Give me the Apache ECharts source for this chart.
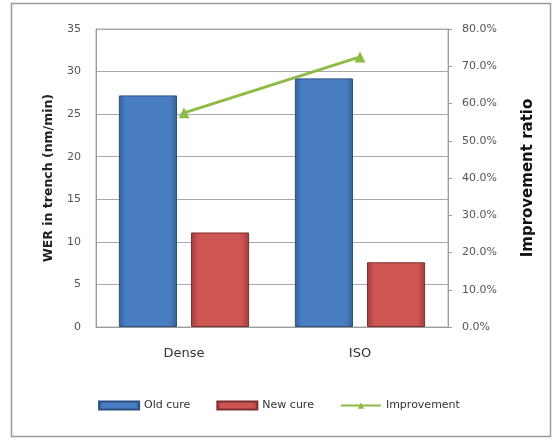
<!DOCTYPE html>
<html>
<head>
<meta charset="utf-8">
<script src="https://cdn.jsdelivr.net/npm/echarts@6/dist/echarts.min.js"></script>
<style>
  html, body { margin: 0; padding: 0; background: #fff; }
  #chart { width: 558px; height: 441px; }
</style>
</head>
<body>
<div id="chart"></div>
<script>
// Wet etch rate before / after the cure change, with the improvement ratio
const categories = ['Dense', 'ISO'];
const oldCure = [27.2, 29.2];
const newCure = [11.1, 7.6];
const improvement = [57.5, 72.5]; // percent
const leftTicks = { min: 0, max: 35, interval: 5 };
const rightTicks = { min: 0, max: 80, interval: 10 };

function barGradient(edge, mid) {
  return new echarts.graphic.LinearGradient(0, 0, 1, 0, [
    { offset: 0, color: edge },
    { offset: 0.12, color: mid },
    { offset: 0.88, color: mid },
    { offset: 1, color: edge }
  ]);
}

const font = 'DejaVu Sans';
const chart = echarts.init(document.getElementById('chart'));
chart.setOption({
  animation: false,
  backgroundColor: '#ffffff',
  textStyle: { fontFamily: font },
  grid: { left: 96, right: 110, top: 29, bottom: 114, show: true, borderColor: '#b4b4b4', borderWidth: 1 },
  graphic: [{
    type: 'rect',
    shape: { x: 11.5, y: 3.5, width: 539, height: 433 },
    style: { fill: 'none', stroke: '#9a9a9a', lineWidth: 1.5 },
    silent: true
  }],
  legend: {
    bottom: 25,
    left: 'center',
    itemWidth: 40,
    itemHeight: 8,
    itemGap: 26,
    textStyle: { fontFamily: font, fontSize: 11, color: '#333' },
    data: [
      { name: 'Old cure', icon: 'rect' },
      { name: 'New cure', icon: 'rect' },
      { name: 'Improvement' }
    ]
  },
  xAxis: {
    type: 'category',
    data: categories,
    axisLine: { lineStyle: { color: '#9a9a9a' } },
    axisTick: { show: false },
    axisLabel: { color: '#333', fontSize: 13, margin: 20, fontFamily: font }
  },
  yAxis: [{
    type: 'value',
    min: leftTicks.min, max: leftTicks.max, interval: leftTicks.interval,
    name: 'WER in trench (nm/min)',
    nameLocation: 'middle',
    nameGap: 41,
    nameRotate: 90,
    nameTextStyle: { fontFamily: font, fontWeight: 'bold', fontSize: 12.5, color: '#222' },
    axisLine: { show: true, lineStyle: { color: '#9a9a9a' } },
    axisTick: { show: false },
    axisLabel: { color: '#555', fontSize: 11, margin: 15, fontFamily: font },
    splitLine: { lineStyle: { color: '#a8a8a8' } }
  }, {
    type: 'value',
    min: rightTicks.min, max: rightTicks.max, interval: rightTicks.interval,
    name: 'Improvement ratio',
    nameLocation: 'middle',
    nameGap: 73,
    nameRotate: 90,
    nameTextStyle: { fontFamily: font, fontWeight: 'bold', fontSize: 15, color: '#111' },
    position: 'right',
    axisLine: { show: true, lineStyle: { color: '#9a9a9a' } },
    axisTick: { show: true, length: 4, lineStyle: { color: '#9a9a9a' } },
    axisLabel: { color: '#555', fontSize: 11, margin: 14, fontFamily: font,
      formatter: v => v.toFixed(1) + '%' },
    splitLine: { show: false }
  }],
  series: [{
    name: 'Old cure',
    type: 'bar',
    data: oldCure,
    barGap: '24%',
    barCategoryGap: '26%',
    itemStyle: { color: barGradient('#34609a', '#4a7ec2'), borderColor: '#2d4f80', borderWidth: 1 }
  }, {
    name: 'New cure',
    type: 'bar',
    data: newCure,
    itemStyle: { color: barGradient('#9e3c3a', '#cd5552'), borderColor: '#7e2f2d', borderWidth: 1 }
  }, {
    name: 'Improvement',
    type: 'line',
    yAxisIndex: 1,
    data: improvement,
    symbol: 'triangle',
    symbolSize: 11,
    z: 5,
    lineStyle: { color: '#8dbb45', width: 3 },
    itemStyle: { color: '#8dbb45' }
  }]
});
</script>
</body>
</html>
